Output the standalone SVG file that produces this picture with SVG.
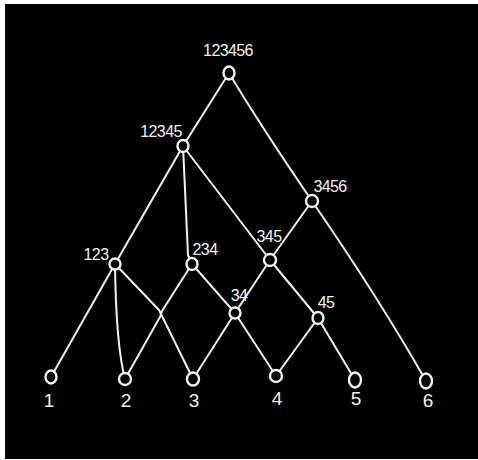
<svg xmlns="http://www.w3.org/2000/svg" width="478" height="460" viewBox="0 0 478 460">
<style>
.e{fill:none;stroke:#f2f2f2;stroke-width:2;stroke-linecap:round;stroke-linejoin:round}
.n{fill:#000;stroke:#f2f2f2;stroke-width:2.4}
.t{fill:#f2f2f2;font-family:"Liberation Sans",Arial,sans-serif;font-size:16px;letter-spacing:-0.6px;text-anchor:middle}
.l{font-size:19px;letter-spacing:0}
</style>
<rect x="0" y="0" width="478" height="460" fill="#fff"/>
<rect x="5" y="4" width="473" height="455" fill="#000"/>
<g id="connectors">
<path class="e" d="M229,73 L183,146"/>
<path class="e" d="M229,73 Q262,128 312,201"/>
<path class="e" d="M312,201 Q380,300 426,381"/>
<path class="e" d="M183,146 L115,264"/>
<path class="e" d="M183,146 L188,255 L192,264"/>
<path class="e" d="M183,146 L270,260"/>
<path class="e" d="M312,201 L270,260"/>
<path class="e" d="M115,264 L51,377"/>
<path class="e" d="M115,264 Q116,345 125,379"/>
<path class="e" d="M115,264 L159,310 L163,318 L193,379"/>
<path class="e" d="M192,264 L162,311 L160,317 L125,379"/>
<path class="e" d="M192,264 L235,313"/>
<path class="e" d="M270,260 L235,313"/>
<path class="e" d="M270,260 L318,318"/>
<path class="e" d="M235,313 L193,379"/>
<path class="e" d="M235,313 L276,376"/>
<path class="e" d="M318,318 L276,376"/>
<path class="e" d="M318,318 L355,380"/>
</g>
<g id="n123456"><ellipse class="n" cx="229" cy="73" rx="5.5" ry="6.5"/><text class="t" x="228" y="56">123456</text></g>
<g id="n12345"><ellipse class="n" cx="183" cy="146" rx="5.5" ry="6"/><text class="t" x="161" y="137">12345</text></g>
<g id="n3456"><ellipse class="n" cx="312" cy="201" rx="6" ry="6"/><text class="t" x="330" y="192">3456</text></g>
<g id="n123"><ellipse class="n" cx="115" cy="264" rx="5.5" ry="5.5"/><text class="t" x="96" y="260">123</text></g>
<g id="n234"><ellipse class="n" cx="192" cy="264" rx="5.5" ry="6"/><text class="t" x="205" y="255">234</text></g>
<g id="n345"><ellipse class="n" cx="270" cy="260" rx="6" ry="6"/><text class="t" x="269" y="242">345</text></g>
<g id="n34"><ellipse class="n" cx="235" cy="313" rx="5.5" ry="5.5"/><text class="t" x="239" y="301">34</text></g>
<g id="n45"><ellipse class="n" cx="318" cy="318" rx="5.5" ry="6"/><text class="t" x="326" y="308">45</text></g>
<g id="n1"><ellipse class="n" cx="51" cy="377" rx="5.5" ry="6.5"/><text class="t l" x="49" y="407">1</text></g>
<g id="n2"><ellipse class="n" cx="125" cy="379" rx="6" ry="6"/><text class="t l" x="126" y="407">2</text></g>
<g id="n3"><ellipse class="n" cx="193" cy="379" rx="6" ry="6.5"/><text class="t l" x="194" y="407">3</text></g>
<g id="n4"><ellipse class="n" cx="276" cy="376" rx="6" ry="6"/><text class="t l" x="277" y="405">4</text></g>
<g id="n5"><ellipse class="n" cx="355" cy="380" rx="6" ry="7.5"/><text class="t l" x="356" y="405">5</text></g>
<g id="n6"><ellipse class="n" cx="426" cy="381" rx="6" ry="7.5"/><text class="t l" x="428" y="407">6</text></g>
</svg>
